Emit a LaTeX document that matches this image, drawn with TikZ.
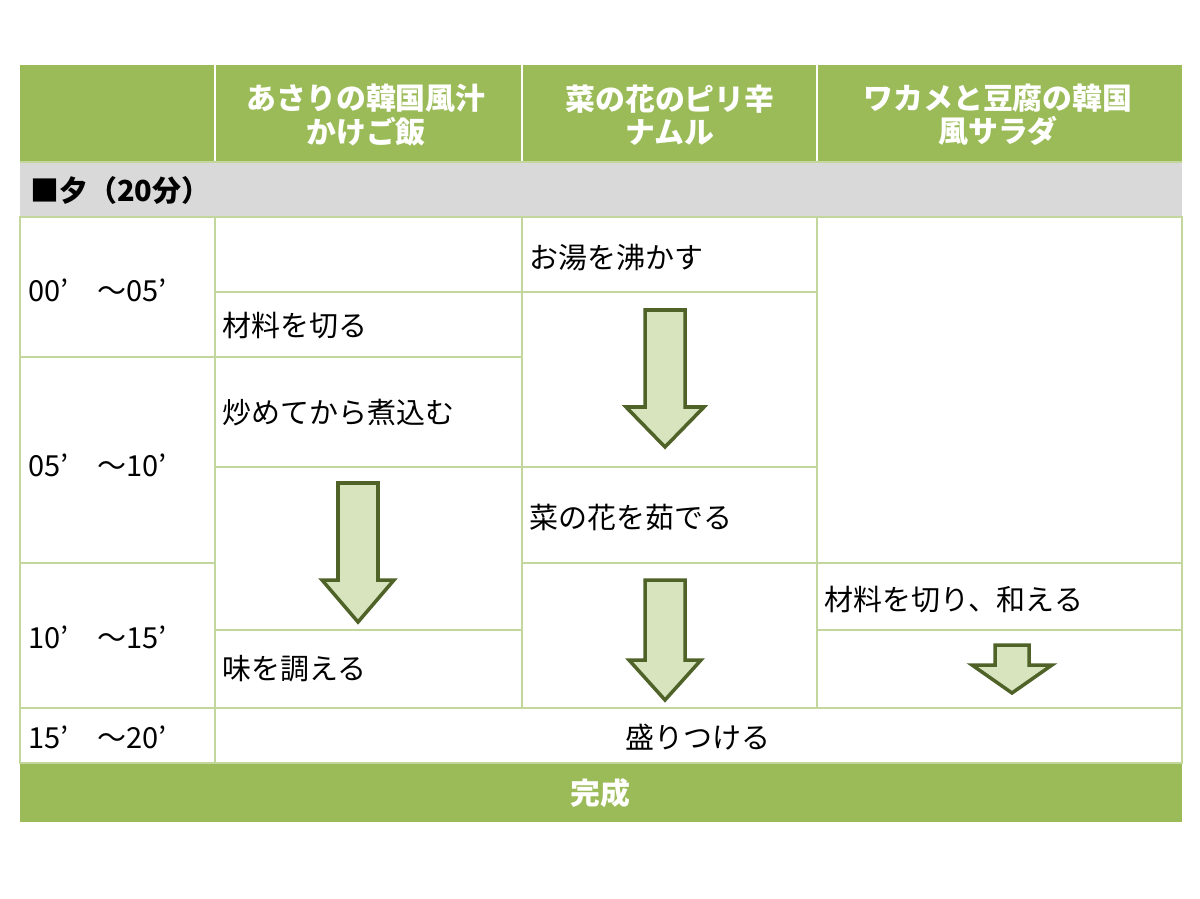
\documentclass[tikz,border=0pt]{standalone}
\usepackage{fontspec}
\setmainfont{Noto Sans CJK JP}
\definecolor{hdgreen}{HTML}{9BBB59}
\definecolor{gridc}{HTML}{C3D69B}
\definecolor{rowgray}{HTML}{D9D9D9}
\definecolor{arrfill}{HTML}{D7E4BD}
\definecolor{arrline}{HTML}{4F6228}
\tikzset{
  hd/.style={text=white,font=\bfseries\fontsize{17}{19}\selectfont,align=center},
  cell/.style={anchor=west,font=\fontsize{16.5}{19}\selectfont},
  grid/.style={draw=gridc,line width=1.2pt},
  flow/.style={fill=arrfill,draw=arrline,line width=2pt,line join=miter}
}
% cx, top, head start, tip, shaft half, head half
\newcommand\dnarrow[6]{\draw[flow] (#1-#5,#2)--(#1+#5,#2)--(#1+#5,#3)--(#1+#6,#3)--(#1,#4)--(#1-#6,#3)--(#1-#5,#3)--cycle;}
\begin{document}
\begin{tikzpicture}[x=0.02cm,y=-0.02cm]
\useasboundingbox (0,0) rectangle (1200,899);
\fill[hdgreen] (20,65) rectangle (1182,162);
\fill[rowgray] (20,162) rectangle (1182,217);
\fill[hdgreen] (20,763) rectangle (1182,822);
\draw[draw=white,line width=1.2pt] (215,65)--(215,162) (522,65)--(522,162) (817,65)--(817,162);
% grid
\draw[grid] (20,217) rectangle (1182,763);
\draw[grid] (215,217)--(215,763) (522,217)--(522,708) (817,217)--(817,708);
\draw[grid] (20,357)--(522,357) (20,563)--(215,563) (20,708)--(1182,708);
\draw[grid] (215,292)--(817,292) (215,467)--(817,467) (215,630)--(522,630);
\draw[grid] (522,563)--(1182,563) (817,630)--(1182,630);
\draw[grid] (20,162)--(1182,162);
% header
\node[hd] (h1) at (366,115) {あさりの韓国風汁\\かけご飯};
\node[hd] (h2) at (670,115) {菜の花のピリ辛\\ナムル};
\node[hd] (h3) at (998,115) {ワカメと豆腐の韓国\\風サラダ};
\node[cell,font=\bfseries\fontsize{16.5}{19}\selectfont] (yu) at (24,190) {■夕（20分）};
% times
\node[cell] (t1) at (22,290) {00’　～05’};
\node[cell] (t2) at (22,465) {05’　～10’};
\node[cell] (t3) at (22,637) {10’　～15’};
\node[cell] (t4) at (22,737) {15’　～20’};
% steps
\node[cell] (a1) at (216,326) {材料を切る};
\node[cell] (a2) at (216,413) {炒めてから煮込む};
\node[cell] (a3) at (216,669) {味を調える};
\node[cell] (b1) at (523,257) {お湯を沸かす};
\node[cell] (b2) at (523,518) {菜の花を茹でる};
\node[cell] (c1) at (818,600) {材料を切り、和える};
\node[font=\fontsize{16.5}{19}\selectfont] (mr) at (698,737) {盛りつける};
\node[hd] (done) at (600,793) {完成};
% arrows
\dnarrow{358}{483}{580}{622}{20}{36}
\dnarrow{665}{310}{407}{447}{20}{39}
\dnarrow{665}{580}{660}{700}{20}{36}
\dnarrow{1012}{645}{665}{693}{17}{40}
\end{tikzpicture}
\end{document}
